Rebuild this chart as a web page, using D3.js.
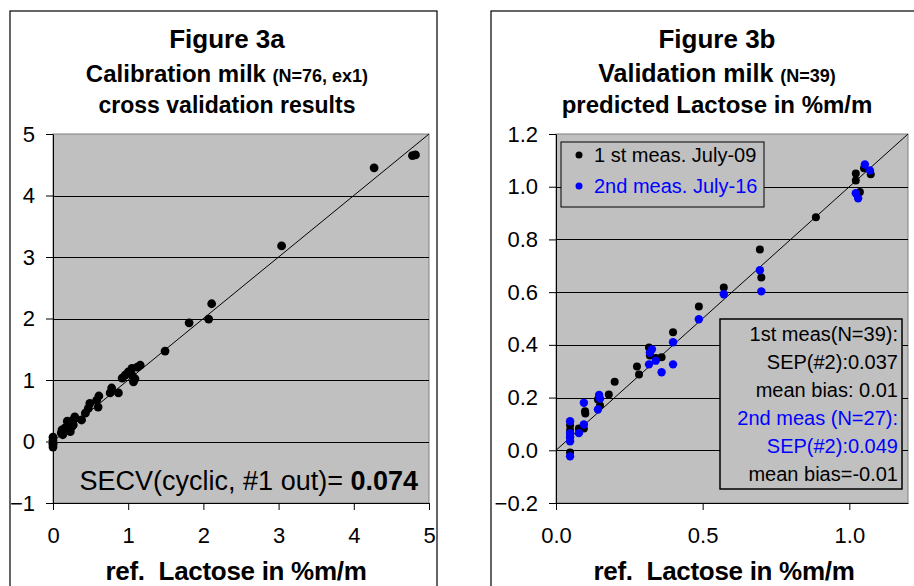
<!DOCTYPE html>
<html>
<head>
<meta charset="utf-8">
<script src="https://cdn.jsdelivr.net/npm/d3@7"></script>
<style>
  html, body { margin: 0; padding: 0; background: #fff; }
  svg { display: block; font-family: "Liberation Sans", Arial, sans-serif; }
  text { white-space: pre; }
</style>
</head>
<body>
<svg id="chart" width="914" height="586"></svg>
<script>
// Figure 3a: calibration, cross validation (ref vs predicted lactose)
var calRef  = [4.78, 4.82, 4.27, 3.04, 2.11, 2.07, 1.81, 1.49,
  1.16, 1.12, 1.05, 1.00, 0.96, 0.92, 1.07, 1.09, 1.05,
  0.78, 0.87, 0.76, 0.61, 0.58, 0.60, 0.49, 0.47, 0.43, 0.38,
  0.29, 0.27, 0.25, 0.20, 0.19, 0.16, 0.12, 0.11, 0.13, 0.23, 0.27,
  0.00, 0.00, 0.00, 0.00, 0.00];
var calPred = [4.65, 4.66, 4.45, 3.18, 2.24, 1.99, 1.93, 1.47,
  1.24, 1.21, 1.19, 1.13, 1.08, 1.03, 0.97, 1.02, 1.08,
  0.87, 0.79, 0.79, 0.74, 0.67, 0.56, 0.62, 0.54, 0.46, 0.35,
  0.40, 0.35, 0.24, 0.27, 0.33, 0.22, 0.19, 0.14, 0.11, 0.16, 0.27,
  0.07, 0.02, -0.03, -0.09, -0.05];
var calTicksX = [0, 1, 2, 3, 4, 5];
var calTicksY = [-1, 0, 1, 2, 3, 4, 5];

// Figure 3b: validation, 1st measurement (July-09)
var v1Ref  = [1.022, 1.022, 1.036, 1.05, 1.073, 0.886, 0.695, 0.70, 0.572, 0.487,
  0.399, 0.317, 0.32, 0.36, 0.34, 0.276, 0.283, 0.20, 0.18, 0.143, 0.15,
  0.099, 0.10, 0.095, 0.078, 0.048, 0.048, 0.048, 0.048];
var v1Pred = [1.05, 1.024, 0.98, 1.07, 1.047, 0.884, 0.762, 0.656, 0.618, 0.546,
  0.448, 0.39, 0.36, 0.353, 0.35, 0.318, 0.288, 0.26, 0.212, 0.193, 0.17,
  0.148, 0.14, 0.083, 0.083, 0.095, 0.076, 0.053, -0.008];
// 2nd measurement (July-16)
var v2Ref  = [1.053, 1.07, 1.022, 1.03, 0.695, 0.70, 0.572, 0.487, 0.399, 0.399,
  0.327, 0.32, 0.34, 0.317, 0.36, 0.147, 0.15, 0.095, 0.143, 0.095, 0.078,
  0.048, 0.048, 0.048, 0.048, 0.048];
var v2Pred = [1.084, 1.062, 0.975, 0.956, 0.683, 0.603, 0.592, 0.497, 0.41, 0.326,
  0.383, 0.37, 0.34, 0.326, 0.296, 0.21, 0.196, 0.18, 0.155, 0.098, 0.065,
  0.11, 0.065, 0.049, 0.034, -0.023];
var valTicksX = [0, 0.5, 1.0];
var valTicksY = [-0.2, 0, 0.2, 0.4, 0.6, 0.8, 1.0, 1.2];

var svg = d3.select("#chart");

function panel(o) {
  var g = svg.append("g");
  g.append("rect").attr("x", o.box[0]).attr("y", o.box[1])
    .attr("width", o.box[2]).attr("height", o.box[3])
    .attr("fill", "#fff").attr("stroke", "#000").attr("stroke-width", 1.2);

  // titles
  o.titles.forEach(function (t) {
    var txt = g.append("text").attr("x", o.cx).attr("y", t.y)
      .attr("text-anchor", "middle").attr("font-weight", "bold")
      .attr("font-size", t.size);
    txt.append("tspan").text(t.main);
    if (t.small) txt.append("tspan").attr("font-size", t.smallSize).text(t.small);
  });

  var x = d3.scaleLinear().domain(o.xd).range([o.plot[0], o.plot[2]]);
  var y = d3.scaleLinear().domain(o.yd).range([o.plot[3], o.plot[1]]);

  g.append("rect").attr("x", o.plot[0]).attr("y", o.plot[1])
    .attr("width", o.plot[2] - o.plot[0]).attr("height", o.plot[3] - o.plot[1])
    .attr("fill", "#c0c0c0").attr("stroke", "#808080").attr("stroke-width", 1);

  // horizontal grid
  g.append("g").selectAll("line")
    .data(o.yt.filter(function (v) { return v > o.yd[0] && v < o.yd[1]; }))
    .join("line")
    .attr("x1", o.plot[0]).attr("x2", o.plot[2])
    .attr("y1", function (d) { return Math.round(y(d)) + 0.5; })
    .attr("y2", function (d) { return Math.round(y(d)) + 0.5; })
    .attr("stroke", "#000").attr("stroke-width", 1);

  // 1:1 line
  g.append("line")
    .attr("x1", x(0)).attr("y1", y(0))
    .attr("x2", x(o.xd[1])).attr("y2", y(o.xd[1]))
    .attr("stroke", "#000").attr("stroke-width", 1);

  var ya = g.append("g").attr("transform", "translate(" + o.plot[0] + ",0)")
    .call(d3.axisLeft(y).tickValues(o.yt).tickFormat(o.fmt).tickSizeInner(7).tickSizeOuter(0).tickPadding(11));
  var xa = g.append("g").attr("transform", "translate(0," + o.plot[3] + ")")
    .call(d3.axisBottom(x).tickValues(o.xt).tickFormat(o.fmt).tickSizeInner(7).tickSizeOuter(0).tickPadding(17));
  [ya, xa].forEach(function (a) {
    a.select(".domain").attr("stroke", "#000");
    a.selectAll(".tick line").attr("stroke", "#000");
    a.selectAll("text").attr("font-size", 22).attr("fill", "#000")
      .attr("font-family", "Liberation Sans, Arial, sans-serif");
  });

  g.append("text").attr("x", o.axCx).attr("y", 580)
    .attr("text-anchor", "middle").attr("font-weight", "bold").attr("font-size", 26)
    .attr("letter-spacing", -0.3)
    .text("ref.  Lactose in %m/m");

  return { g: g, x: x, y: y };
}

// ---- Figure 3a ----
var a = panel({
  box: [10, 11, 427, 620], cx: 227, axCx: 236,
  plot: [53, 134, 429, 503], xd: [0, 5], yd: [-1, 5],
  xt: calTicksX, yt: calTicksY, fmt: d3.format("d"),
  titles: [
    { y: 48, size: 26, main: "Figure 3a" },
    { y: 82, size: 24, main: "Calibration milk ", small: "(N=76, ex1)", smallSize: 18 },
    { y: 113, size: 23, main: "cross validation results" }
  ]
});
a.g.append("g").selectAll("circle").data(d3.range(calRef.length)).join("circle")
  .attr("cx", function (i) { return a.x(calRef[i]); })
  .attr("cy", function (i) { return a.y(calPred[i]); })
  .attr("r", 4.4).attr("fill", "#000");
var secv = a.g.append("text").attr("x", 418).attr("y", 490)
  .attr("text-anchor", "end").attr("font-size", 27);
secv.append("tspan").text("SECV(cyclic, #1 out)= ");
secv.append("tspan").attr("font-weight", "bold").text("0.074");

// ---- Figure 3b ----
var b = panel({
  box: [491, 11, 500, 620], cx: 717, axCx: 724,
  plot: [556, 134, 908, 503], xd: [0, 1.2], yd: [-0.2, 1.2],
  xt: valTicksX, yt: valTicksY, fmt: d3.format(".1f"),
  titles: [
    { y: 48, size: 26, main: "Figure 3b" },
    { y: 82, size: 25, main: "Validation milk ", small: "(N=39)", smallSize: 18 },
    { y: 113, size: 24, main: "predicted Lactose in %m/m" }
  ]
});

// legend
var lg = b.g.append("g");
lg.append("rect").attr("x", 561).attr("y", 142).attr("width", 203).attr("height", 65)
  .attr("fill", "#c0c0c0").attr("stroke", "#000").attr("stroke-width", 1);
[["1 st meas. July-09", "#000", 162], ["2nd meas. July-16", "#0000ff", 193]].forEach(function (e) {
  lg.append("circle").attr("cx", 579).attr("cy", e[2] - 7).attr("r", 3.5).attr("fill", e[1]);
  lg.append("text").attr("x", 594).attr("y", e[2]).attr("font-size", 20).attr("fill", e[1]).text(e[0]);
});

// stats box
var sb = b.g.append("g");
sb.append("rect").attr("x", 720).attr("y", 319).attr("width", 182).attr("height", 170)
  .attr("fill", "#c0c0c0").attr("stroke", "#000").attr("stroke-width", 1.5);
var statLines = [
  ["1st meas(N=39):", "#000"], ["SEP(#2):0.037", "#000"], ["mean bias: 0.01", "#000"],
  ["2nd meas (N=27):", "#0000ff"], ["SEP(#2):0.049", "#0000ff"], ["mean bias=-0.01", "#000"]
];
statLines.forEach(function (s, i) {
  sb.append("text").attr("x", 898).attr("y", 341 + i * 28).attr("text-anchor", "end")
    .attr("font-size", 20).attr("fill", s[1]).text(s[0]);
});

b.g.append("g").selectAll("circle").data(d3.range(v1Ref.length)).join("circle")
  .attr("cx", function (i) { return b.x(v1Ref[i]); })
  .attr("cy", function (i) { return b.y(v1Pred[i]); })
  .attr("r", 4).attr("fill", "#000");
b.g.append("g").selectAll("circle").data(d3.range(v2Ref.length)).join("circle")
  .attr("cx", function (i) { return b.x(v2Ref[i]); })
  .attr("cy", function (i) { return b.y(v2Pred[i]); })
  .attr("r", 4.2).attr("fill", "#0000ff");
</script>
</body>
</html>
